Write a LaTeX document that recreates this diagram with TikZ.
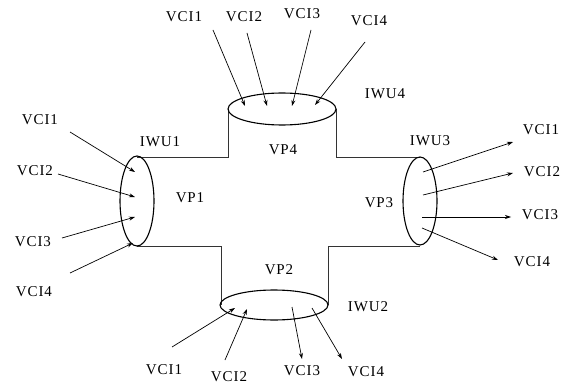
\documentclass[tikz,border=0pt]{standalone}
\usepackage{fontspec}
\setmainfont{Liberation Serif}[LetterSpace=6]
\usetikzlibrary{arrows.meta}

\begin{document}
\begin{tikzpicture}[x=1pt, y=-1pt,
    lbl/.style={font=\fontsize{15}{17}\selectfont, inner sep=1pt},
    pipe/.style={line width=0.5pt, color=black!80},
    iwu/.style={line width=1.1pt},
    vc/.style={line width=0.7pt, -{Stealth[length=6pt, width=4pt]}}]
    \useasboundingbox (0,0) rectangle (561,387);

    % outline of the cross
    \draw[pipe] (137,157) -- (228,157) -- (228,109);
    \draw[pipe] (336,109) -- (336,157) -- (420,157);
    \draw[pipe] (137,246) -- (221,246) -- (221,305);
    \draw[pipe] (328,305) -- (328,246) -- (420,246);

    % interworking units
    \draw[iwu] (137,201) ellipse (17 and 45);
    \draw[iwu] (282,109) ellipse (54 and 16);
    \draw[iwu] (420,201) ellipse (17 and 44);
    \draw[iwu] (274,305) ellipse (54 and 15);

    % names
    \node[lbl] (iwu1) at (160,142) {IWU1};
    \node[lbl] (iwu2) at (368,307) {IWU2};
    \node[lbl] (iwu3) at (430,141) {IWU3};
    \node[lbl] (iwu4) at (385,94) {IWU4};
    \node[lbl] (vp1) at (190,198) {VP1};
    \node[lbl] (vp2) at (279,270) {VP2};
    \node[lbl] (vp3) at (379,203) {VP3};
    \node[lbl] (vp4) at (283,150) {VP4};

    % VP1: incoming channels
    \foreach \i/\lx/\ly/\tx/\ty/\hx/\hy in
      {1/40/120/70/132/135/172, 2/35/171/58/174/135/197,
       3/33/242/62/238/135/217, 4/34/292/70/273/133/243}
    {
      \node[lbl] (l\i) at (\lx,\ly) {VCI\i};
      \coordinate (lt\i) at (\tx,\ty);
      \coordinate (lh\i) at (\hx,\hy);
      \draw[vc] (lt\i) -- (lh\i);
    }

    % VP4: incoming channels
    \foreach \i/\lx/\ly/\tx/\ty/\hx/\hy in
      {1/184/17/213/30/245/106, 2/244/17/247/33/267/106,
       3/302/14/311/30/292/106, 4/369/21/365/42/315/105}
    {
      \node[lbl] (t\i) at (\lx,\ly) {VCI\i};
      \coordinate (tt\i) at (\tx,\ty);
      \coordinate (th\i) at (\hx,\hy);
      \draw[vc] (tt\i) -- (th\i);
    }

    % VP3: outgoing channels
    \foreach \i/\lx/\ly/\tx/\ty/\hx/\hy in
      {1/541/130/423/172/513/142, 2/542/172/423/195/513/173,
       3/540/215/422/217/511/217, 4/532/262/422/228/498/260}
    {
      \node[lbl] (r\i) at (\lx,\ly) {VCI\i};
      \coordinate (rt\i) at (\tx,\ty);
      \coordinate (rh\i) at (\hx,\hy);
      \draw[vc] (rt\i) -- (rh\i);
    }

    % VP2: two in, two out
    \foreach \i/\lx/\ly/\tx/\ty/\hx/\hy in
      {1/164/370/172/347/235/308, 2/229/377/225/360/247/309,
       3/302/371/292/307/302/359, 4/366/372/312/308/342/359}
    {
      \node[lbl] (b\i) at (\lx,\ly) {VCI\i};
      \coordinate (bt\i) at (\tx,\ty);
      \coordinate (bh\i) at (\hx,\hy);
      \draw[vc] (bt\i) -- (bh\i);
    }
\end{tikzpicture}
\end{document}
